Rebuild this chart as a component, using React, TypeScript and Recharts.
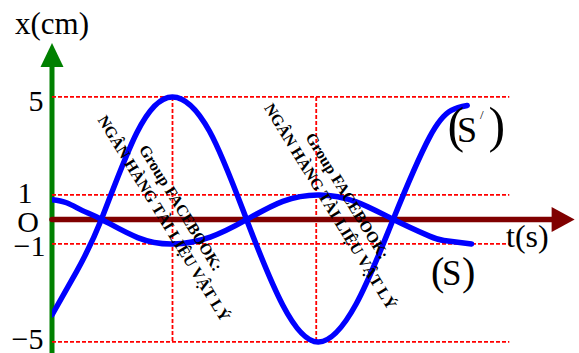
import { LineChart, Line, XAxis, YAxis, ReferenceLine, ReferenceDot } from 'recharts'

// (S') – dao động biên độ 5 cm
const T_BIG = [0, 1.7, 3.4, 5.85, 8.3, 10.85, 13.4, 15.9, 18.35, 20.95, 23.5, 26.0, 27.5, 28.6]
const X_BIG = [-3.9, -2.12, 0, 3.55, 5, 3.6, 0, -3.5, -5, -3.45, 0, 3.35, 4.45, 4.65]

// (S) – dao động biên độ 1 cm
const T_SMALL = [0, 1.0, 2.1, 3.42, 5.9, 8.33, 10.9, 13.43, 15.9, 18.4, 20.95, 23.52, 26.0, 27.0, 28.9]
const X_SMALL = [0.8, 0.68, 0.36, 0, -0.74, -1, -0.72, 0, 0.74, 1, 0.72, 0, -0.68, -0.86, -1]

const Y_TICKS = [5, 1, 0, -1, -5]
const Y_TICK_LABELS = ['5', '1', 'O', '−1', '−5']
const GRID_Y = [5, 1, -1, -5]
const GRID_T = [8.3, 18.2]

const GRID_END_T = 31.5
const X_ARROW_T = 36.0
const Y_ARROW_X = 7.2

const bigData = T_BIG.map((t, i) => ({ t, x: X_BIG[i] }))
const smallData = T_SMALL.map((t, i) => ({ t, x: X_SMALL[i] }))

const SERIF = "'Liberation Serif', 'Times New Roman', serif"

// right edge and vertical nudge of each y tick label
const TICK_POS: Record<string, [number, number]> = {
  '5': [43.5, 4],
  '1': [32.5, -2.4],
  O: [39, 2.6],
  '−1': [45.5, 2],
  '−5': [43.5, -2.5],
}

function YTick(props: any) {
  const { y, payload } = props
  const label = Y_TICK_LABELS[Y_TICKS.indexOf(payload.value)]
  const [right, dy] = TICK_POS[label]
  return (
    <text x={right} y={y + 10 + dy} textAnchor="end" fontFamily={SERIF} fontSize={30} fill="#000">
      {label}
    </text>
  )
}

function Watermark({ cx, cy }: { cx: number; cy: number }) {
  return (
    <text
      transform={`translate(${cx},${cy}) rotate(58.5)`}
      textAnchor="middle"
      fontFamily={SERIF}
      fontWeight="bold"
      fontSize={16}
      fill="#000"
    >
      <tspan x={0} y={-4.5}>Group FACEBOOK:</tspan>
      <tspan x={0} y={15.5}>NGÂN HÀNG TÀI LIỆU VẬT LÝ</tspan>
    </text>
  )
}

export default function App() {
  return (
    <div style={{ position: 'absolute', left: 0, top: 0, width: 579, height: 353, background: '#fff' }}>
      <LineChart width={579} height={353} data={bigData} margin={{ top: 43, right: 0, bottom: 0, left: 0 }}>
        <XAxis type="number" dataKey="t" domain={[0, 36.3]} hide allowDataOverflow />
        <YAxis
          type="number"
          domain={[-5.45, Y_ARROW_X]}
          ticks={Y_TICKS}
          interval={0}
          width={52}
          axisLine={false}
          tickLine={false}
          tick={<YTick />}
          allowDataOverflow
        />

        {/* trục x(cm) màu xanh lá */}
        <ReferenceLine
          segment={[{ x: 0, y: -5.45 }, { x: 0, y: 6.5 }]}
          stroke="#008000"
          strokeWidth={5}
          ifOverflow="visible"
        />
        <ReferenceDot
          x={0}
          y={Y_ARROW_X}
          ifOverflow="visible"
          shape={(p: any) => (
            <polygon points={`${p.cx},${p.cy} ${p.cx - 11.5},${p.cy + 24} ${p.cx + 11.5},${p.cy + 24}`} fill="#008000" />
          )}
        />

        {GRID_Y.map((v) => (
          <ReferenceLine
            key={`gy${v}`}
            segment={[{ x: 0, y: v }, { x: GRID_END_T, y: v }]}
            stroke="#ff0000"
            strokeWidth={1.8}
            strokeDasharray="4 2"
            ifOverflow="visible"
          />
        ))}
        {GRID_T.map((t) => (
          <ReferenceLine
            key={`gt${t}`}
            segment={[{ x: t, y: 5 }, { x: t, y: -5 }]}
            stroke="#ff0000"
            strokeWidth={1.8}
            strokeDasharray="4 2"
            ifOverflow="visible"
          />
        ))}

        {/* trục t(s) */}
        <ReferenceLine
          segment={[{ x: 0, y: 0 }, { x: 34.6, y: 0 }]}
          stroke="#800000"
          strokeWidth={5.5}
          strokeLinecap="round"
          ifOverflow="visible"
        />
        <ReferenceDot
          x={X_ARROW_T}
          y={0}
          ifOverflow="visible"
          shape={(p: any) => (
            <polygon points={`${p.cx},${p.cy} ${p.cx - 23},${p.cy - 12.5} ${p.cx - 23},${p.cy + 12.5}`} fill="#800000" />
          )}
        />

        <Line
          data={bigData}
          type="natural"
          dataKey="x"
          stroke="#0000ff"
          strokeWidth={5.5}
          strokeLinecap="round"
          dot={false}
          activeDot={false}
          isAnimationActive={false}
        />
        <Line
          data={smallData}
          type="natural"
          dataKey="x"
          stroke="#0000ff"
          strokeWidth={5.5}
          strokeLinecap="round"
          dot={false}
          activeDot={false}
          isAnimationActive={false}
        />
      </LineChart>

      <svg width={579} height={353} style={{ position: 'absolute', left: 0, top: 0, pointerEvents: 'none' }}>
        <text x={15} y={34} fontFamily={SERIF} fontSize={31} fill="#000">x(cm)</text>
        <text x={506} y={247} fontFamily={SERIF} fontSize={32} fill="#000">t(s)</text>

        <g fontFamily={SERIF} fill="#000">
          <text x={447.5} y={142} fontSize={50}>(</text>
          <text x={457} y={142} fontSize={36}>S</text>
          <text x={480} y={119} fontSize={13}>/</text>
          <text x={488.5} y={142} fontSize={50}>)</text>

          <text x={431} y={285} fontSize={40}>(</text>
          <text x={442} y={285} fontSize={35}>S</text>
          <text x={462} y={285} fontSize={40}>)</text>
        </g>

        <Watermark cx={172.5} cy={213} />
        <Watermark cx={339} cy={201} />
      </svg>
    </div>
  )
}
